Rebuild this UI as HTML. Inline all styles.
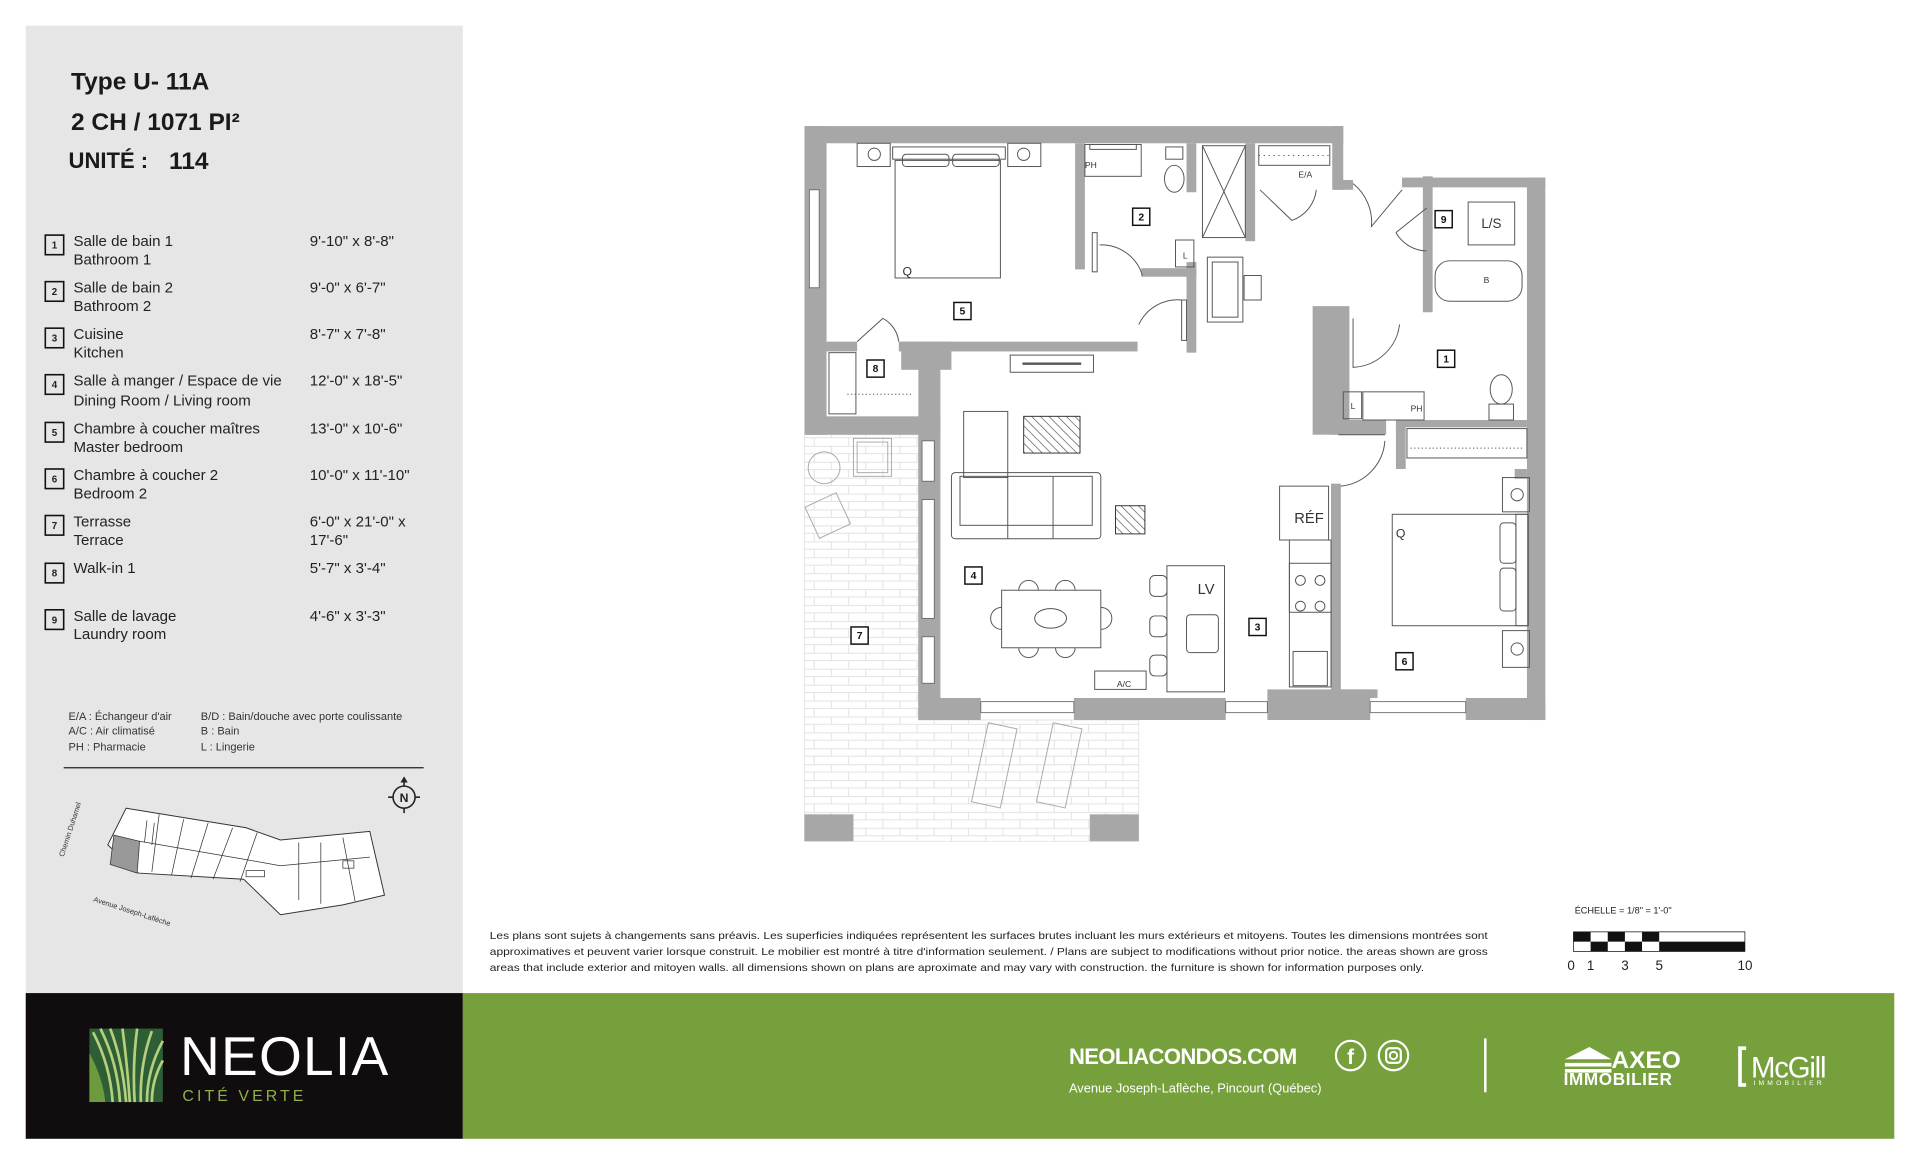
<!DOCTYPE html>
<html><head><meta charset="utf-8"><style>
html,body{margin:0;padding:0;background:#fff;width:1920px;height:1165px;overflow:hidden}
svg{display:block}
text{font-family:"Liberation Sans",sans-serif}
</style></head><body>
<svg width="1920" height="1165" viewBox="0 0 1568 951.4" preserveAspectRatio="none" xmlns="http://www.w3.org/2000/svg">
<defs>
<pattern id="tile" width="28" height="13" patternUnits="userSpaceOnUse">
<rect width="28" height="13" fill="#fff"/>
<path d="M0 0.5H28M0 6.5H28M7 0V6.5M21 6.5V13" stroke="#e2e2e2" stroke-width="0.8" fill="none"/>
</pattern>
<pattern id="hatch" width="5" height="5" patternUnits="userSpaceOnUse" patternTransform="rotate(-45)">
<rect width="5" height="5" fill="#fff"/><line x1="0" y1="0" x2="0" y2="5" stroke="#444" stroke-width="1"/>
</pattern>
</defs>

<!-- left panel -->
<rect x="21" y="21" width="357" height="790" fill="#e6e6e6"/>
<text x="58" y="73" font-size="20" font-weight="bold" fill="#1a1a1a">Type U- 11A</text>
<text x="58" y="106" font-size="20" font-weight="bold" fill="#1a1a1a">2 CH /  1071 PI²</text>
<text x="56" y="137" font-size="18" font-weight="bold" fill="#1a1a1a">UNITÉ :</text>
<text x="138" y="138" font-size="20" font-weight="bold" fill="#1a1a1a">114</text>

<g font-size="12.3" fill="#222">
<g stroke="#111" stroke-width="1.3" fill="none">
<rect x="37" y="192" width="15" height="16"/><rect x="37" y="230" width="15" height="16"/><rect x="37" y="268" width="15" height="16"/>
<rect x="37" y="306" width="15" height="16"/><rect x="37" y="345" width="15" height="16"/><rect x="37" y="383" width="15" height="16"/>
<rect x="37" y="421" width="15" height="16"/><rect x="37" y="460" width="15" height="16"/><rect x="37" y="498" width="15" height="16"/>
</g>
<g font-size="8" font-weight="bold" text-anchor="middle">
<text x="44.5" y="203">1</text><text x="44.5" y="241">2</text><text x="44.5" y="279">3</text><text x="44.5" y="317">4</text><text x="44.5" y="356">5</text><text x="44.5" y="394">6</text><text x="44.5" y="432">7</text><text x="44.5" y="471">8</text><text x="44.5" y="509">9</text>
</g>
<text x="60" y="201">Salle de bain 1</text><text x="60" y="216">Bathroom 1</text>
<text x="60" y="239">Salle de bain 2</text><text x="60" y="254">Bathroom 2</text>
<text x="60" y="277">Cuisine</text><text x="60" y="292">Kitchen</text>
<text x="60" y="315">Salle à manger / Espace de vie</text><text x="60" y="331">Dining Room / Living room</text>
<text x="60" y="354">Chambre à coucher maîtres</text><text x="60" y="369">Master bedroom</text>
<text x="60" y="392">Chambre à coucher 2</text><text x="60" y="407">Bedroom 2</text>
<text x="60" y="430">Terrasse</text><text x="60" y="445">Terrace</text>
<text x="60" y="468">Walk-in 1</text>
<text x="60" y="507">Salle de lavage</text><text x="60" y="522">Laundry room</text>
<text x="253" y="201">9'-10" x 8'-8"</text>
<text x="253" y="239">9'-0" x 6'-7"</text>
<text x="253" y="277">8'-7" x 7'-8"</text>
<text x="253" y="315">12'-0" x 18'-5"</text>
<text x="253" y="354">13'-0" x 10'-6"</text>
<text x="253" y="392">10'-0" x 11'-10"</text>
<text x="253" y="430">6'-0" x 21'-0" x</text><text x="253" y="445">17'-6"</text>
<text x="253" y="468">5'-7" x 3'-4"</text>
<text x="253" y="507">4'-6" x 3'-3"</text>
</g>
<g font-size="9" fill="#333">
<text x="56" y="588">E/A : Échangeur d'air</text><text x="56" y="600">A/C : Air climatisé</text><text x="56" y="613">PH : Pharmacie</text>
<text x="164" y="588">B/D : Bain/douche avec porte coulissante</text><text x="164" y="600">B : Bain</text><text x="164" y="613">L : Lingerie</text>
</g>
<line x1="52" y1="627" x2="346" y2="627" stroke="#222" stroke-width="1"/>
<g stroke="#222" fill="none" stroke-width="1.3"><circle cx="330" cy="651" r="9"/><path d="M330 638v4M330 660v4M317 651h4M339 651h4"/></g>
<path d="M327 639l3-5 3 5z" fill="#222"/>
<text x="330" y="655" font-size="10" font-weight="bold" text-anchor="middle" fill="#222">N</text>
<g fill="#fff" stroke="#333" stroke-width="0.8">
<polygon points="88,690 103,660 201,676 229,686 302,679 314,731 280,739 229,747 199,718 113,713"/>
</g>
<polygon points="93,682 114,687 112,713 90,706" fill="#999" stroke="#333" stroke-width="0.6"/>
<g stroke="#333" stroke-width="0.6" fill="none">
<path d="M114,687 L201,702 L229,707 L302,700"/><path d="M130,665 L124,712M150,669 L140,715M170,672 L156,717M190,676 L174,718M210,680 L196,720M244,688 L244,735M262,688 L262,738M280,684 L290,736"/>
<path d="M120,670 L118,688 M126,672 L124,690"/>
<rect x="201" y="711" width="15" height="5"/><rect x="280" y="703" width="9" height="6"/>
</g>
<text x="0" y="0" font-size="6" fill="#333" transform="translate(52,700) rotate(-72)">Chemin Duhamel</text>
<text x="0" y="0" font-size="6" fill="#333" transform="translate(76,736) rotate(18)">Avenue Joseph-Laflèche</text>

<!-- disclaimer -->
<g font-size="8.2" fill="#222">
<text x="400" y="767" textLength="815" lengthAdjust="spacingAndGlyphs">Les plans sont sujets à changements sans préavis. Les superficies indiquées représentent les surfaces brutes incluant les murs extérieurs et mitoyens. Toutes les dimensions montrées sont</text>
<text x="400" y="780" textLength="815" lengthAdjust="spacingAndGlyphs">approximatives et peuvent varier lorsque construit. Le mobilier est montré à titre d'information seulement. / Plans are subject to modifications without prior notice. the areas shown are gross</text>
<text x="400" y="793" textLength="763" lengthAdjust="spacingAndGlyphs">areas that include exterior and mitoyen walls. all dimensions shown on plans are aproximate and may vary with construction. the furniture is shown for information purposes only.</text>
</g>
<text x="1286" y="746" font-size="7.5" fill="#222">ÉCHELLE = 1/8" = 1'-0"</text>
<g fill="#111">
<rect x="1285" y="761" width="14" height="8"/><rect x="1313" y="761" width="14" height="8"/><rect x="1341" y="761" width="14" height="8"/>
<rect x="1299" y="769" width="14" height="8"/><rect x="1327" y="769" width="14" height="8"/><rect x="1355" y="769" width="70" height="8"/>
</g>
<rect x="1285" y="761" width="140" height="16" fill="none" stroke="#111" stroke-width="0.6"/>
<g font-size="11" fill="#222"><text x="1280" y="792">0</text><text x="1296" y="792">1</text><text x="1324" y="792">3</text><text x="1352" y="792">5</text><text x="1419" y="792">10</text></g>

<!-- footer -->
<rect x="21" y="811" width="357" height="119" fill="#110d0e"/>
<rect x="378" y="811" width="1169" height="119" fill="#76a03c"/>
<rect x="73" y="840" width="60" height="60" fill="#2d5e35"/>
<g stroke="#b6cf7d" stroke-width="2.2" fill="none">
<path d="M76 843 Q90 870 92 900M82 840 Q96 868 98 900M90 840 Q100 866 103 900M100 840 Q104 870 106 900M112 840 Q108 870 110 900M124 842 Q114 870 115 900M133 850 Q120 874 120 900M133 866 Q124 882 124 900"/>
</g>
<path d="M73 860 Q84 880 86 900 L73 900Z" fill="#6d9a3c"/>
<text x="147" y="878" font-size="45" fill="#fff" letter-spacing="1">NEOLIA</text>
<text x="149" y="899" font-size="13" fill="#8db04b" letter-spacing="2.5">CITÉ VERTE</text>
<text x="873" y="869" font-size="18" font-weight="bold" fill="#fff" letter-spacing="-0.5">NEOLIACONDOS.COM</text>
<text x="873" y="892" font-size="10.5" fill="#fff">Avenue Joseph-Laflèche, Pincourt (Québec)</text>
<circle cx="1103" cy="862" r="12" fill="none" stroke="#fff" stroke-width="1.8"/>
<text x="1103" y="869" font-size="17" font-weight="bold" fill="#fff" text-anchor="middle">f</text>
<circle cx="1138" cy="862" r="12" fill="none" stroke="#fff" stroke-width="1.8"/>
<rect x="1132" y="856" width="12" height="12" rx="3" fill="none" stroke="#fff" stroke-width="1.8"/><circle cx="1138" cy="862" r="3" fill="none" stroke="#fff" stroke-width="1.5"/>
<line x1="1213" y1="848" x2="1213" y2="892" stroke="#fff" stroke-width="2"/>
<path d="M1278 865 L1298 855 L1316 865Z M1278 868 h38 v3 h-38z M1278 873 h38 v3 h-38z" fill="#fff"/>
<text x="1316" y="872" font-size="20" font-weight="bold" fill="#fff">AXEO</text>
<text x="1277" y="886" font-size="14" font-weight="bold" fill="#fff" letter-spacing="0.5">IMMOBILIER</text>
<path d="M1426 856 h-5 v30 h5" fill="none" stroke="#fff" stroke-width="3"/>
<text x="1430" y="880" font-size="24" fill="#fff" letter-spacing="-1">McGill</text>
<text x="1432" y="886" font-size="5.5" fill="#fff" letter-spacing="2.6">IMMOBILIER</text>

<!-- FLOOR PLAN -->
<polygon points="657,355 750,355 750,588 930,588 930,687 657,687" fill="url(#tile)" stroke="#ddd" stroke-width="0.6"/>
<rect x="657" y="665" width="40" height="22" fill="#a7a7a7"/>
<rect x="890" y="665" width="40" height="22" fill="#a7a7a7"/>
<g fill="none" stroke="#aaa" stroke-width="0.8">
<circle cx="673" cy="382" r="13"/><rect x="697" y="358" width="31" height="31"/><rect x="700" y="361" width="25" height="25"/>
<rect x="662" y="407" width="28" height="28" transform="rotate(-25 676 421)"/>
<rect x="800" y="592" width="24" height="66" transform="rotate(12 812 625)"/>
<rect x="853" y="592" width="24" height="66" transform="rotate(12 865 625)"/>
</g>
<g fill="#a7a7a7">
<rect x="657" y="103" width="440" height="14"/>
<rect x="1088" y="103" width="9" height="52"/>
<rect x="1090" y="147" width="15" height="8"/>
<rect x="1145" y="145" width="117" height="8"/>
<rect x="1247" y="145" width="15" height="443"/>
<rect x="657" y="103" width="18" height="252"/>
<rect x="657" y="340" width="111" height="15"/>
<rect x="750" y="287" width="18" height="301"/>
<rect x="674" y="279" width="26" height="8"/>
<rect x="734" y="279" width="195" height="8"/>
<rect x="736" y="279" width="41" height="23"/>
<rect x="878" y="117" width="8" height="103"/>
<rect x="932" y="219" width="45" height="7"/>
<rect x="969" y="117" width="8" height="40"/>
<rect x="969" y="214" width="8" height="74"/>
<rect x="1017" y="117" width="8" height="80"/>
<rect x="1072" y="250" width="30" height="105"/>
<rect x="1162" y="144" width="8" height="111"/>
<rect x="1087" y="343" width="45" height="12"/>
<rect x="1140" y="343" width="8" height="40"/>
<rect x="1140" y="343" width="107" height="6"/>
<rect x="1087" y="395" width="8" height="175"/>
<rect x="750" y="570" width="51" height="18"/>
<rect x="877" y="570" width="124" height="18"/>
<rect x="1035" y="563" width="84" height="25"/>
<rect x="1197" y="570" width="65" height="18"/>
<rect x="1095" y="563" width="30" height="7"/>
<rect x="1237" y="383" width="10" height="8"/>
</g>
<g fill="#fff" stroke="#666" stroke-width="0.7">
<rect x="661" y="155" width="8" height="80"/>
<rect x="753" y="360" width="10" height="33"/><rect x="753" y="408" width="10" height="97"/><rect x="753" y="520" width="10" height="38"/>
<rect x="801" y="573" width="76" height="9"/><rect x="1001" y="573" width="34" height="9"/><rect x="1119" y="573" width="78" height="9"/>
</g>
<g fill="none" stroke="#555" stroke-width="0.8">
<rect x="731" y="131" width="86" height="96"/><rect x="729" y="120" width="92" height="10"/>
<rect x="737" y="126" width="38" height="10" rx="3"/><rect x="778" y="126" width="38" height="10" rx="3"/>
<rect x="700" y="117" width="27" height="19"/><circle cx="714" cy="126" r="5"/>
<rect x="823" y="117" width="27" height="19"/><circle cx="836" cy="126" r="5"/>
<rect x="886" y="118" width="46" height="26"/><rect x="890" y="118" width="38" height="4"/>
<ellipse cx="959" cy="146" rx="8" ry="11"/><rect x="952" y="120" width="14" height="10"/>
<rect x="982" y="119" width="35" height="75"/><path d="M982 119L1017 194M1017 119L982 194"/>
<rect x="960" y="196" width="15" height="22"/>
<rect x="986" y="210" width="29" height="53"/><rect x="990" y="214" width="21" height="45"/><rect x="1016" y="225" width="14" height="20"/>
<rect x="1028" y="119" width="58" height="16"/>
<path d="M1028 127h58" stroke-dasharray="1 3"/>
<rect x="1199" y="165" width="38" height="35"/>
<rect x="1172" y="213" width="71" height="33" rx="12"/>
<ellipse cx="1226" cy="318" rx="9" ry="12"/><rect x="1216" y="330" width="20" height="13"/>
<rect x="1113" y="320" width="50" height="23"/><rect x="1097" y="320" width="15" height="22"/>
<rect x="1149" y="350" width="98" height="24"/><path d="M1152 366h92" stroke-dasharray="1 2"/>
<rect x="677" y="288" width="22" height="50"/><path d="M692 322h54" stroke-dasharray="1 2"/>
<rect x="1137" y="420" width="111" height="91"/><rect x="1238" y="420" width="10" height="91"/>
<rect x="1225" y="427" width="13" height="33" rx="3"/><rect x="1225" y="464" width="13" height="35" rx="3"/>
<rect x="1227" y="390" width="22" height="28"/><circle cx="1239" cy="404" r="5"/>
<rect x="1227" y="515" width="22" height="30"/><circle cx="1239" cy="530" r="5"/>
<rect x="1045" y="397" width="40" height="44"/>
<rect x="1053" y="441" width="34" height="120"/><rect x="1053" y="460" width="34" height="40"/>
<circle cx="1062" cy="474" r="4"/><circle cx="1078" cy="474" r="4"/><circle cx="1062" cy="495" r="4"/><circle cx="1078" cy="495" r="4"/>
<rect x="1056" y="532" width="28" height="28"/>
<rect x="953" y="462" width="47" height="103"/><rect x="969" y="502" width="26" height="31" rx="3"/>
<rect x="939" y="470" width="14" height="17" rx="4"/><rect x="939" y="503" width="14" height="17" rx="4"/><rect x="939" y="535" width="14" height="17" rx="4"/>
<rect x="894" y="548" width="42" height="15"/>
<rect x="818" y="482" width="81" height="47"/><ellipse cx="858" cy="505" rx="13" ry="8"/>
<path d="M832 482a7 7 0 0 1 16 0M862 482a7 7 0 0 1 16 0M832 529a7 7 0 0 0 16 0M862 529a7 7 0 0 0 16 0M818 496a8 8 0 0 0 0 18M899 496a8 8 0 0 1 0 18"/>
<rect x="777" y="386" width="122" height="54" rx="3"/><rect x="784" y="389" width="108" height="40"/>
<path d="M823 389v51M860 389v51"/>
<rect x="787" y="336" width="36" height="54"/>
<rect x="825" y="290" width="68" height="14"/><path d="M835 297h48" stroke-width="2"/>
</g>
<rect x="836" y="340" width="46" height="30" fill="url(#hatch)" stroke="#333" stroke-width="0.8"/>
<rect x="911" y="413" width="24" height="23" fill="url(#hatch)" stroke="#333" stroke-width="0.8"/>
<g fill="none" stroke="#555" stroke-width="0.8">
<path d="M898 200 A35 35 0 0 1 933 225"/><rect x="892" y="190" width="4" height="32" fill="#fff"/>
<path d="M930 265 A35 35 0 0 1 965 245"/><rect x="965" y="245" width="4" height="33"/>
<path d="M700 279 L721 260 A25 25 0 0 1 734 279"/>
<path d="M1029 155 L1055 180 A30 30 0 0 0 1075 155"/>
<path d="M1105 150 A40 40 0 0 1 1120 185 L1145 155"/>
<path d="M1140 190 L1165 170 M1140 190 A30 30 0 0 0 1165 205"/>
<path d="M1105 260 L1105 300 A40 40 0 0 0 1143 265"/>
<path d="M1093 355 h38 M1131 360 A40 40 0 0 1 1095 397"/>
</g>
<g stroke="#111" stroke-width="1.2" fill="#fff">
<rect x="1174" y="286" width="14" height="14"/><rect x="925" y="170" width="14" height="14"/><rect x="1020" y="505" width="14" height="14"/>
<rect x="788" y="463" width="14" height="14"/><rect x="779" y="247" width="14" height="14"/><rect x="1140" y="533" width="14" height="14"/>
<rect x="695" y="512" width="14" height="14"/><rect x="708" y="294" width="14" height="14"/><rect x="1172" y="172" width="14" height="14"/>
</g>
<g font-size="8.5" font-weight="bold" text-anchor="middle" fill="#111">
<text x="1181" y="296">1</text><text x="932" y="180">2</text><text x="1027" y="515">3</text><text x="795" y="473">4</text><text x="786" y="257">5</text><text x="1147" y="543">6</text><text x="702" y="522">7</text><text x="715" y="304">8</text><text x="1179" y="182">9</text>
</g>
<g fill="#333" font-size="11">
<text x="1218" y="186" text-anchor="middle">L/S</text>
<text x="1069" y="427" text-anchor="middle" font-size="12">RÉF</text>
<text x="985" y="485" text-anchor="middle" font-size="12">LV</text>
<text x="737" y="225" font-size="10">Q</text><text x="1140" y="439" font-size="10">Q</text>
</g>
<g fill="#333" font-size="7">
<text x="918" y="561" text-anchor="middle">A/C</text><text x="1066" y="145" text-anchor="middle">E/A</text>
<text x="886" y="137">PH</text><text x="1152" y="336">PH</text>
<text x="968" y="211" text-anchor="middle">L</text><text x="1105" y="334" text-anchor="middle">L</text><text x="1214" y="231" text-anchor="middle">B</text>
</g>
</svg>
</body></html>
